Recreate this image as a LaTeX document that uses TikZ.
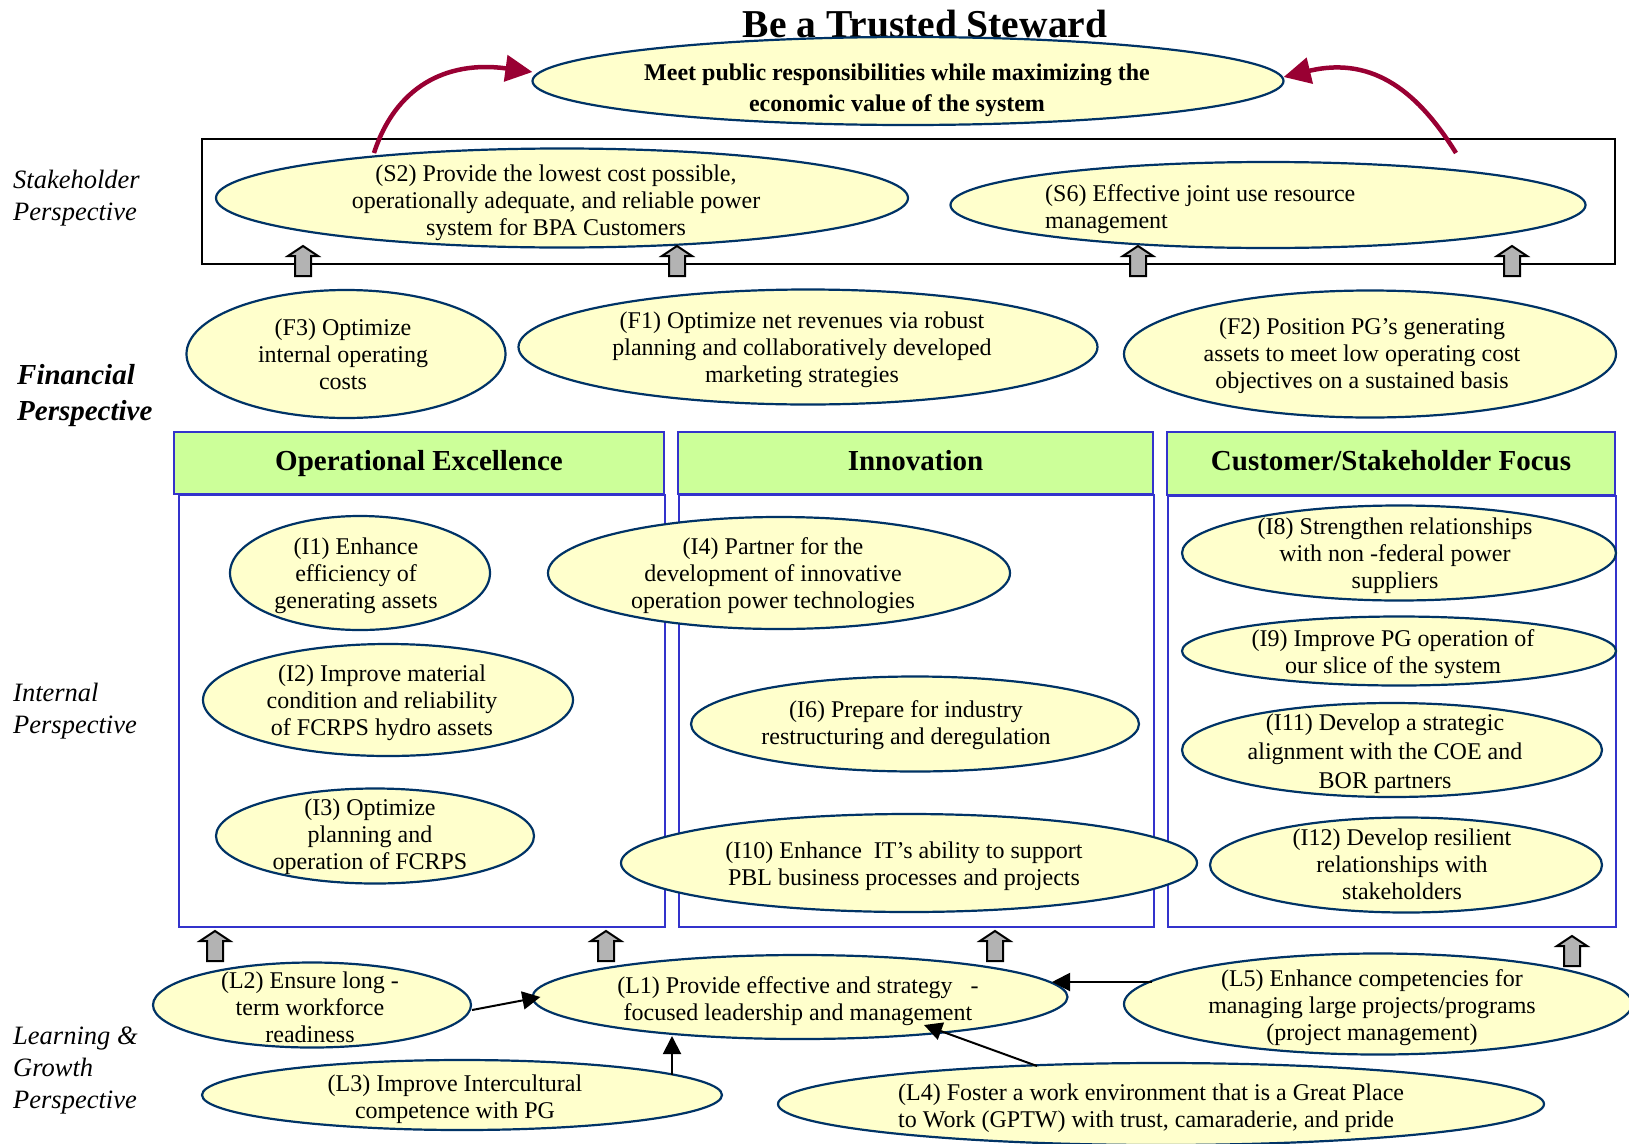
\documentclass[tikz,border=0pt]{standalone}
\usepackage{fontspec}
\setmainfont{Liberation Serif}
\usetikzlibrary{arrows.meta,calc,shapes.geometric}
\definecolor{ellfill}{HTML}{FFFFCC}
\definecolor{elldraw}{HTML}{003366}
\definecolor{hdrgreen}{HTML}{CCFF99}
\definecolor{boxblue}{HTML}{3333CC}
\definecolor{redarr}{HTML}{990033}
\definecolor{arrgray}{HTML}{B3B3B3}
\newcommand\bodyfont{\fontsize{24pt}{27pt}\selectfont}
% name, centre, width, height, text position, text
\newcommand\goal[6]{%
  \node[oval, minimum width=#3pt, minimum height=#4pt] (#1) at (#2) {};
  \node[txt] (#1t) at (#5) {#6};}
\tikzset{
  oval/.style={ellipse, draw=elldraw, fill=ellfill, line width=2.2pt, inner sep=0pt},
  txt/.style={font=\bodyfont, align=center, inner sep=0pt, yshift=-2pt},
  colbox/.style={draw=boxblue, line width=2pt, anchor=north west, inner sep=0pt},
  colhead/.style={draw=boxblue, fill=hdrgreen, line width=2pt, inner sep=0pt,
     text height=20pt, text depth=6pt,
     font=\bfseries\fontsize{29pt}{32pt}\selectfont},
  persp/.style={anchor=west, align=left, inner sep=0pt, font=\itshape\fontsize{26.5pt}{32pt}\selectfont},
  blockarrow/.style={draw=black, fill=arrgray, line width=2pt, line join=miter},
  redlink/.style={draw=redarr, line width=4.5pt, -{Triangle[length=27pt,width=26pt]}},
  link/.style={draw=black, line width=2pt, -{Triangle[length=18pt,width=18pt]}},
  blockup/.pic={\path[blockarrow] (-8,30) -- (-8,10) -- (-15,10) -- (0,0) -- (15,10) -- (8,10) -- (8,30) -- cycle;}
}
\begin{document}
\begin{tikzpicture}[x=1pt,y=-1pt]
\useasboundingbox[fill=white] (0,0) rectangle (1629,1143);

% title
\node[inner sep=0pt, font=\bfseries\fontsize{39.5pt}{42pt}\selectfont] (title) at (925,24) {Be a Trusted Steward};

% perspective labels
\node[persp] (lstake) at (13,198) {Stakeholder\\Perspective};
\node[persp, font=\bfseries\itshape\fontsize{29pt}{36pt}\selectfont] (lfin) at (17,396) {Financial\\Perspective};
\node[persp] (lint) at (13,711) {Internal\\Perspective};
\node[persp] (llearn) at (13,1070) {Learning \&\\Growth\\Perspective};

% frames
\node[draw=black, line width=2pt, anchor=north west, inner sep=0pt, minimum width=1413pt, minimum height=125pt] (SPbox) at (201,138) {};
\node[colbox, minimum width=486pt, minimum height=432pt] (OEbox) at (178,494) {};
\node[colbox, minimum width=475pt, minimum height=432pt] (INbox) at (678,494) {};
\node[colbox, minimum width=448pt, minimum height=431pt] (CSbox) at (1167,495) {};
\node[colhead, minimum width=490pt, minimum height=62pt] (OEhead) at (419,463) {Operational Excellence};
\node[colhead, minimum width=475pt, minimum height=62pt] (INhead) at (915.5,463) {Innovation};
\node[colhead, minimum width=448pt, minimum height=63pt] (CShead) at (1391,463.5) {Customer/Stakeholder Focus};

% top goal
\node[oval, minimum width=751pt, minimum height=88pt] (top) at (908,81) {};
\node[txt, font=\bfseries\fontsize{24pt}{31pt}\selectfont] (topt) at (897,88)
  {Meet public responsibilities while maximizing the\\economic value of the system};

% stakeholder
\goal{S2}{562,198}{692}{99}{556,201}{(S2) Provide the lowest cost possible,\\operationally adequate, and reliable power\\system for BPA Customers}
\node[oval, minimum width=635pt, minimum height=86pt] (S6) at (1268,205) {};
\node[txt, anchor=west, align=left] (S6t) at (1045,207) {(S6) Effective joint use resource\\management};

% financial
\goal{F3}{346,354}{319}{128}{343,352}{(F3) Optimize\\internal operating\\costs}
\goal{F1}{808,347}{579}{115}{802,348}{(F1) Optimize net revenues via robust\\planning and collaboratively developed\\marketing strategies}
\goal{F2}{1370,354}{492}{127}{1362,354}{(F2) Position PG’s generating\\assets to meet low operating cost\\objectives on a sustained basis}

% internal
\goal{I1}{360,573}{260}{114}{356,574}{(I1) Enhance\\efficiency of\\generating assets}
\goal{I4}{779,573}{462}{112}{773,574}{(I4) Partner for the\\development of innovative\\operation power technologies}
\goal{I2}{388,700}{370}{112}{382,701}{(I2) Improve material\\condition and reliability\\of FCRPS hydro assets}
\goal{I6}{915,724}{448}{95}{906,723}{(I6) Prepare for industry\\restructuring and deregulation}
\goal{I3}{375,836}{318}{95}{370,835}{(I3) Optimize\\planning and\\operation of FCRPS}
\goal{I10}{909,863}{576}{98}{904,864}{(I10) Enhance\ \ IT’s ability to support\\PBL business processes and projects}
\goal{I8}{1399,553}{434}{95}{1395,554}{(I8) Strengthen relationships\\with non -federal power\\suppliers}
\goal{I9}{1399,651}{434}{69}{1393,652}{(I9) Improve PG operation of\\our slice of the system}
\goal{I11}{1392,750}{420}{94}{1385,752}{(I11) Develop a strategic\\[2pt]alignment with the COE and\\[2pt]BOR partners}
\goal{I12}{1406,865}{392}{95}{1402,862}{(I12) Develop resilient\\relationships with\\stakeholders}

% learning & growth
\goal{L2}{312,1005}{318}{85}{310,1005}{(L2) Ensure long -\\term workforce\\readiness}
\goal{L1}{800,997}{535}{84}{798,999}{(L1) Provide effective and strategy\ \ \ -\\focused leadership and management}
\goal{L5}{1378,1004}{508}{101}{1372,1006}{(L5) Enhance competencies for\\managing large projects/programs\\(project management)}
\goal{L3}{462,1095}{520}{70}{455,1097}{(L3) Improve Intercultural\\competence with PG}
\node[oval, minimum width=766pt, minimum height=82pt] (L4) at (1161,1104) {};
\node[txt, anchor=west, align=left] (L4t) at (898,1106) {(L4) Foster a work environment that is a Great Place\\to Work (GPTW) with trust, camaraderie, and pride};

% block arrows
\foreach \bx in {303,677,1138,1512} { \pic at (\bx,246) {blockup}; }
\foreach \bx in {215,606,995} { \pic at (\bx,931) {blockup}; }
\pic at (1572,936) {blockup};

% red arrows to the top goal
\draw[redlink] ($(S2.center)+(-188,-45)$) .. controls (395,88) and (445,60) .. ($(top.west)+(1,-9)$);
\draw[redlink] ($(S6.center)+(188,-52)$) .. controls (1420,95) and (1375,55) .. ($(top.east)+(-1,-4)$);

% learning links
\draw[link] ($(L2.east)+(0,5)$) -- ($(L1.west)+(9,0)$);
\draw[link] ($(L3.center)+(210,-20)$) -- ($(L1.center)+(-128,39)$);
\draw[link] ($(L5.center)+(-226,-22)$) -- ($(L1.center)+(252,-15)$);
\draw[link] ($(L4.center)+(-124,-38)$) -- ($(L1.center)+(124,28)$);
\end{tikzpicture}
\end{document}
